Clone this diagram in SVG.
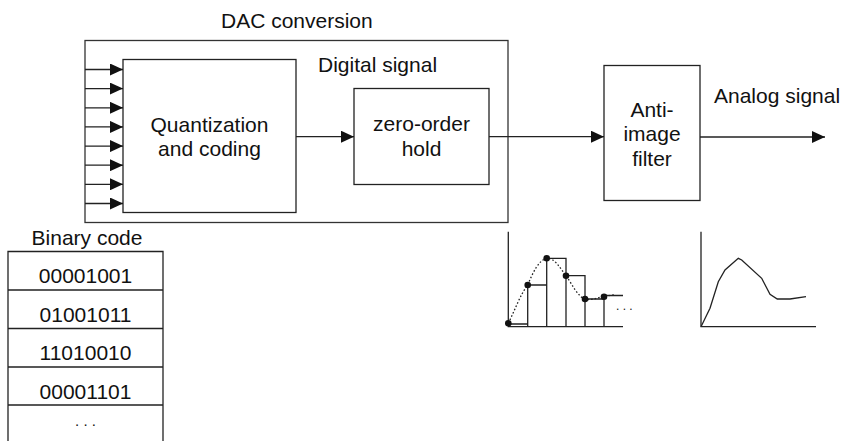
<svg xmlns="http://www.w3.org/2000/svg" width="843" height="441" viewBox="0 0 843 441">
<style>
text{font-family:"Liberation Sans",Arial,sans-serif;font-size:21px;fill:#111}
.c{text-anchor:middle}
.box{fill:none;stroke:#222;stroke-width:1.3}
.ln{fill:none;stroke:#222;stroke-width:1.3}
.dot{fill:#111}
</style>
<defs>
<marker id="ah" markerUnits="userSpaceOnUse" markerWidth="13" markerHeight="12" refX="13" refY="6" orient="auto">
<path d="M0,0 L13,6 L0,12 z" fill="#111"/>
</marker>
</defs>
<rect width="843" height="441" fill="#fff"/>
<g id="dac">
<rect class="box" x="85" y="40.5" width="423" height="182" stroke-width="1.6" style="stroke:#333"/>
<text x="221" y="28">DAC conversion</text>
<text x="318" y="72">Digital signal</text>
</g>
<g id="quant">
<rect class="box" x="123" y="59.5" width="173" height="153"/>
<text class="c" x="209.5" y="131.5">Quantization</text>
<text class="c" x="209.5" y="156">and coding</text>
</g>
<g id="zoh">
<rect class="box" x="354" y="88.5" width="135" height="96"/>
<text class="c" x="421.5" y="131">zero-order</text>
<text class="c" x="421.5" y="156">hold</text>
</g>
<g id="filter">
<rect class="box" x="604" y="65.5" width="96" height="135"/>
<text class="c" x="652" y="116.5">Anti-</text>
<text class="c" x="652" y="141">image</text>
<text class="c" x="652" y="165.5">filter</text>
</g>
<g id="analog-label">
<text x="714" y="103">Analog signal</text>
</g>
<g id="connectors">
<line class="ln" x1="85" y1="69.5" x2="123" y2="69.5" marker-end="url(#ah)"/>
<line class="ln" x1="85" y1="88.6" x2="123" y2="88.6" marker-end="url(#ah)"/>
<line class="ln" x1="85" y1="107.8" x2="123" y2="107.8" marker-end="url(#ah)"/>
<line class="ln" x1="85" y1="126.9" x2="123" y2="126.9" marker-end="url(#ah)"/>
<line class="ln" x1="85" y1="146.1" x2="123" y2="146.1" marker-end="url(#ah)"/>
<line class="ln" x1="85" y1="165.2" x2="123" y2="165.2" marker-end="url(#ah)"/>
<line class="ln" x1="85" y1="184.3" x2="123" y2="184.3" marker-end="url(#ah)"/>
<line class="ln" x1="85" y1="203.5" x2="123" y2="203.5" marker-end="url(#ah)"/>
<line class="ln" x1="296" y1="136.7" x2="354" y2="136.7" marker-end="url(#ah)"/>
<line class="ln" x1="489" y1="136.7" x2="604" y2="136.7" marker-end="url(#ah)"/>
<line class="ln" x1="700" y1="137" x2="825" y2="137" marker-end="url(#ah)"/>
</g>
<g id="binary-code">
<text class="c" x="87" y="245">Binary code</text>
<path class="ln" d="M8,441 V251.5 H163 V441 M8,290 H163 M8,328.5 H163 M8,367 H163 M8,405 H163"/>
<text class="c" x="85.5" y="283">00001001</text>
<text class="c" x="85.5" y="321.5">01001011</text>
<text class="c" x="85.5" y="360">11010010</text>
<text class="c" x="85.5" y="398.5">00001101</text>
<text class="c" x="85.5" y="426" style="font-size:15px">. . .</text>
</g>
<g id="staircase-plot">
<path class="ln" d="M508.3,231.7 V326.7 H623"/>
<path class="ln" d="M508.3,324 H527.7 M527.7,326.7 V285 H546.7 M546.7,326.7 V258.3 H566 V326.7 M566,275.7 H585 V326.7 M585,299 H604 M604,326.7 V295.5 H623"/>
<path class="ln" stroke-dasharray="1.6 2" d="M508.3,323.3 C515,310 520,295 527.7,285 C533,272 539,260 546.7,258.3 C554,257 560,268 566,275.7 C572,284 578,297 585,299 C592,301 598,297 604,296.7 C607,296 610,295 614,295"/>
<circle class="dot" cx="508.3" cy="323.3" r="3.3"/>
<circle class="dot" cx="527.7" cy="285" r="3.3"/>
<circle class="dot" cx="546.7" cy="258.3" r="3.3"/>
<circle class="dot" cx="566" cy="275.7" r="3.3"/>
<circle class="dot" cx="585" cy="299" r="3.3"/>
<circle class="dot" cx="604" cy="296.7" r="3.3"/>
<text x="616" y="310" style="font-size:12px">. . .</text>
</g>
<g id="analog-plot">
<path class="ln" d="M701,231.7 V326.7 H816"/>
<path class="ln" d="M701,326.7 L710,308.3 L718.3,281.7 L725,270 L738.3,258.3 L741.7,260 L761.7,278.3 L770,294.3 L777.3,299 L790,299 L806,296.7"/>
</g>
</svg>
